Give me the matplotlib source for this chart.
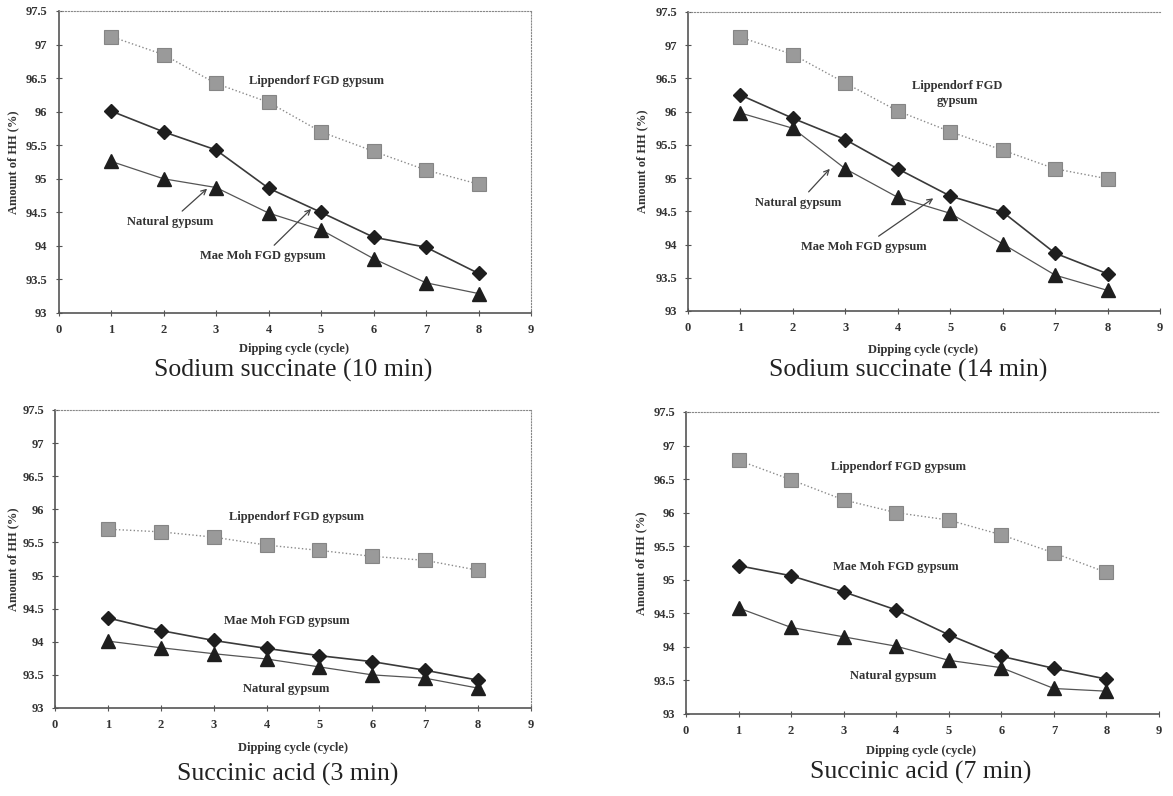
import numpy as np
import matplotlib
matplotlib.use('Agg')
import matplotlib.pyplot as plt

plt.rcParams['font.family'] = ['Liberation Serif', 'DejaVu Serif']

# Data
cycles = [1, 2, 3, 4, 5, 6, 7, 8]

titles = ['Sodium succinate (10 min)', 'Sodium succinate (14 min)',
          'Succinic acid (3 min)', 'Succinic acid (7 min)']

lippendorf = [
    [97.12, 96.85, 96.42, 96.14, 95.70, 95.41, 95.13, 94.92],
    [97.12, 96.86, 96.43, 96.01, 95.70, 95.42, 95.14, 94.99],
    [95.70, 95.66, 95.58, 95.46, 95.38, 95.29, 95.23, 95.08],
    [96.78, 96.49, 96.19, 96.00, 95.89, 95.67, 95.40, 95.11],
]
mae_moh = [
    [96.01, 95.70, 95.43, 94.86, 94.50, 94.13, 93.98, 93.59],
    [96.25, 95.90, 95.58, 95.14, 94.73, 94.49, 93.87, 93.56],
    [94.36, 94.17, 94.02, 93.90, 93.79, 93.70, 93.57, 93.42],
    [95.21, 95.06, 94.82, 94.55, 94.18, 93.86, 93.68, 93.52],
]
natural = [
    [95.26, 95.00, 94.87, 94.49, 94.24, 93.81, 93.45, 93.29],
    [95.98, 95.75, 95.14, 94.71, 94.47, 94.01, 93.54, 93.31],
    [94.01, 93.91, 93.82, 93.74, 93.62, 93.50, 93.45, 93.30],
    [94.58, 94.29, 94.15, 94.01, 93.80, 93.69, 93.38, 93.34],
]

y_ticks = [93, 93.5, 94, 94.5, 95, 95.5, 96, 96.5, 97, 97.5]
y_tick_labels = ['93', '93.5', '94', '94.5', '95', '95.5', '96', '96.5', '97', '97.5']
x_ticks = list(range(10))

W, H = 1173, 796
fig = plt.figure(figsize=(W / 100, H / 100), dpi=100)

def px_axes(x0, x1, ytop, ybot):
    return fig.add_axes([x0 / W, 1 - ybot / H, (x1 - x0) / W, (ybot - ytop) / H])

def ftext(x, y, s, **kw):
    fig.text(x / W, 1 - y / H, s, ha='center', va='center', **kw)

# axes boxes in pixels: x of 0, x of 9, y of 97.5, y of 93
boxes = [(58.5, 531, 11, 313), (688, 1160, 12, 311),
         (55, 531, 410, 708), (686, 1159, 412, 714)]
# title / label positions in pixels
title_pos = [(293, 370), (908, 370), (288, 774), (921, 772)]
xlabel_pos = [(294, 349), (923, 350), (293, 748), (921, 751)]
ylabel_x = [13, 642, 13, 641]

axes_color = '#555555'
bold = dict(fontweight='bold', color='#333333')

for i, ax_box in enumerate(boxes):
    ax = px_axes(*ax_box)
    ax.set_xlim(0, 9)
    ax.set_ylim(93, 97.5)

    ax.plot(cycles, lippendorf[i], linestyle=':', color='#8a8a8a', lw=1.0,
            marker='s', ms=10, mfc='#9a9a9a', mec='#858585', mew=0.8)
    ax.plot(cycles, mae_moh[i], linestyle='-', color='#3a3a3a', lw=1.2,
            marker='D', ms=7.5, mfc='#1e1e1e', mec='#1e1e1e')
    ax.plot(cycles, natural[i], linestyle='-', color='#555555', lw=0.9,
            marker='^', ms=10, mfc='#1e1e1e', mec='#1e1e1e')

    ax.set_xticks(x_ticks)
    ax.set_xticklabels([str(t) for t in x_ticks], fontsize=9, **bold)
    ax.set_yticks(y_ticks)
    ax.set_yticklabels(y_tick_labels, fontsize=9, **bold)
    ax.tick_params(axis='both', direction='inout', length=4, width=0.8,
                   color=axes_color, pad=6)

    for side in ['left', 'bottom']:
        ax.spines[side].set_color(axes_color)
        ax.spines[side].set_linewidth(1.2)
    ax.spines['top'].set_linestyle(':')
    ax.spines['top'].set_color('#888888')
    ax.spines['top'].set_linewidth(0.8)
    if i in (0, 2):
        ax.spines['right'].set_linestyle(':')
        ax.spines['right'].set_color('#888888')
        ax.spines['right'].set_linewidth(0.8)
    else:
        ax.spines['right'].set_visible(False)

    ftext(*title_pos[i], titles[i], fontsize=18.5, color='#222222')
    ftext(*xlabel_pos[i], 'Dipping cycle (cycle)', fontsize=9, **bold)
    ftext(ylabel_x[i], (ax_box[2] + ax_box[3]) / 2, 'Amount of HH (%)',
          fontsize=9, rotation=90, **bold)

    ann = dict(fontsize=9, ha='center', va='center', **bold)
    arrow = dict(arrowstyle='->', color='#444444', lw=0.9)
    if i == 0:
        ax.text(4.92, 96.46, 'Lippendorf FGD gypsum', **ann)
        ax.annotate('Natural gypsum', xy=(2.87, 94.88), xytext=(2.13, 94.36),
                    arrowprops=arrow, **ann)
        ax.annotate('Mae Moh FGD gypsum', xy=(4.85, 94.58), xytext=(3.9, 93.85),
                    arrowprops=arrow, **ann)
    elif i == 1:
        ax.text(5.14, 96.27, 'Lippendorf FGD\ngypsum', linespacing=1.3, **ann)
        ax.annotate('Natural gypsum', xy=(2.74, 95.17), xytext=(2.11, 94.63),
                    arrowprops=arrow, **ann)
        ax.annotate('Mae Moh FGD gypsum', xy=(4.72, 94.72), xytext=(3.35, 93.97),
                    arrowprops=arrow, **ann)
    elif i == 2:
        ax.text(4.57, 95.88, 'Lippendorf FGD gypsum', **ann)
        ax.text(4.38, 94.31, 'Mae Moh FGD gypsum', **ann)
        ax.text(4.38, 93.29, 'Natural gypsum', **ann)
    else:
        ax.text(4.04, 96.68, 'Lippendorf FGD gypsum', **ann)
        ax.text(4.0, 95.19, 'Mae Moh FGD gypsum', **ann)
        ax.text(3.94, 93.57, 'Natural gypsum', **ann)

fig.savefig('out.png', dpi=100)
